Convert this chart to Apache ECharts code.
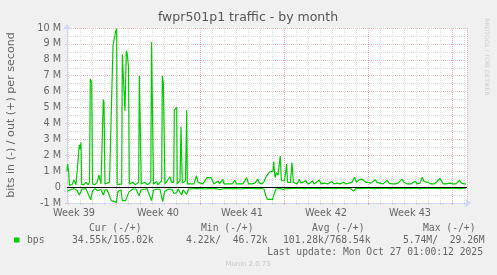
<!DOCTYPE html>
<html>
<head>
<meta charset="utf-8">
<script src="https://cdn.jsdelivr.net/npm/echarts@6/dist/echarts.min.js"></script>
<style>
html,body{margin:0;padding:0;background:#F0F0F0;}
#c{width:497px;height:275px;}
</style>
</head>
<body>
<div id="c"></div>
<script>
// time in hours since Mon Sep 22 00:00, values in Mbit/s
const outHours = [70,71.4,73.4,75,80,84,88,91,94.6,96,98,99.4,104,108,112,115,116.6,119.4,121,126,130,134,138,141,142.6,144,146,150,155,162,165.4,167.4,169.4,170.4,174,179.4,180.6,184,186,188.6,190.4,193,194.6,198,202,206,210,213.4,214.6,218.6,222,226,230,234,237.6,239,243,246,249,252,256,259.4,260.6,262.6,266,270,276,279,283.4,284.6,289.4,290.4,293,296,297,298,300.6,303,307,309.4,310.6,314,318,324,329,332,336,342,346,350,354,358,361,364,368,372.6,375,381.4,384,392,396,400,406,409,416,422,429.4,433,440,446,451.4,455,460,464,468,472,475,478,482,483.4,486,489,492,496.6,498.6,502,505,509.4,511,514,517,520,522.6,526,530,534.6,538,542,548,551,556,561.4,564,568,574.6,578,584,588,592,600,604,610,616,623.4,628,634,640,645,649,653.4,656,660,663,667,672,678,686.6,690,696,702,710,714,720,726,732,740,744,750,758,766,770,776,780.6,784,788,792,798,804,810,816,819,822,828,836,842,848,854.6,859,864,868];
const outMbps = [1.0,1.45,0.9,0.12,0.15,0.45,0.15,0.2,2.65,2.4,2.8,0.15,0.15,0.3,0.15,0.3,6.8,6.6,0.2,0.15,0.3,0.75,0.2,0.3,5.5,5.3,0.2,0.15,0.3,8.9,8.9,9.8,9.95,0.15,0.15,0.2,8.35,8.35,4.8,8.55,8.4,7.5,0.2,0.15,0.3,0.15,0.2,0.3,7.0,0.2,0.15,0.3,0.15,0.2,0.3,9.1,0.2,0.15,0.35,0.15,0.2,0.4,7.0,6.6,0.2,0.15,0.65,0.3,0.3,4.85,5.0,0.2,0.15,0.4,0.3,3.8,0.25,0.3,0.4,4.83,0.2,0.15,0.2,0.2,0.72,0.3,0.2,0.2,0.3,0.6,0.55,0.6,0.4,0.2,0.2,0.38,0.2,0.48,0.2,0.2,0.3,0.2,0.42,0.2,0.2,0.2,0.6,0.2,0.2,0.25,0.5,0.25,0.2,0.35,0.65,0.7,0.95,0.85,1.0,1.6,0.6,0.9,0.75,1.95,0.4,0.5,0.4,1.45,0.3,0.35,0.3,1.55,0.3,0.3,0.2,0.5,0.25,0.2,0.4,0.2,0.25,0.4,0.2,0.25,0.45,0.2,0.25,0.3,0.2,0.35,0.2,0.25,0.2,0.3,0.2,0.25,0.3,0.62,0.3,0.45,0.35,0.5,0.55,0.3,0.3,0.25,0.47,0.3,0.25,0.2,0.42,0.25,0.2,0.2,0.25,0.5,0.3,0.2,0.2,0.37,0.2,0.25,0.62,0.35,0.4,0.3,0.2,0.2,0.35,0.55,0.45,0.2,0.2,0.25,0.2,0.2,0.42,0.25,0.2,0.2];
const inHours = [70,73,78,84,90,94,97,100,104,108,112,117.4,121,126,130.6,134,138,142.6,146,150.6,154,158.6,164,168.6,172,175,178,180.6,184,187,190.6,194,197.4,202,208,214,218,224,230,234,239,243,246,250,256,261.4,265,269.4,274,280,284,289,292,299.4,302,309.4,313,316,326,336,346,356,366,376,386,396,406,416,426,436,446,456,464,468,471.4,481.4,484.6,488,496,502,508,516,526,536,546,556,566,576,586,596,606,616,626,636,643.4,648,656,666,676,686,696,706,716,726,736,746,756,766,776,786,796,806,816,826,836,846,856,868];
const inMbps = [-0.25,-0.15,-0.15,-0.1,-0.2,-0.5,-0.35,-0.12,-0.2,-0.1,-0.15,-0.8,-0.25,-0.1,-0.22,-0.1,-0.15,-0.5,-0.18,-0.18,-0.12,-0.85,-0.9,-0.96,-0.28,-0.22,-0.18,-0.85,-0.92,-0.85,-0.8,-0.3,-0.22,-0.12,-0.12,-0.55,-0.18,-0.15,-0.1,-0.15,-0.85,-0.18,-0.2,-0.12,-0.15,-0.92,-0.28,-0.2,-0.12,-0.15,-0.4,-0.35,-0.12,-0.5,-0.18,-0.45,-0.12,-0.15,-0.1,-0.08,-0.12,-0.1,-0.1,-0.15,-0.08,-0.1,-0.08,-0.12,-0.08,-0.07,-0.1,-0.08,-0.12,-0.6,-0.77,-0.77,-0.4,-0.12,-0.08,-0.15,-0.08,-0.1,-0.07,-0.08,-0.1,-0.07,-0.08,-0.1,-0.07,-0.08,-0.1,-0.07,-0.08,-0.08,-0.25,-0.08,-0.1,-0.07,-0.08,-0.1,-0.07,-0.08,-0.1,-0.07,-0.08,-0.1,-0.07,-0.08,-0.1,-0.07,-0.08,-0.08,-0.1,-0.07,-0.08,-0.08,-0.1,-0.07];
const weekCenters = [84,252,420,588,756];
const weekLabels = ['Week 39','Week 40','Week 41','Week 42','Week 43'];
const statHeaders = ['Cur (-/+)','Min (-/+)','Avg (-/+)','Max (-/+)'];
const statValues = ['34.55k/165.02k','4.22k/  46.72k','101.28k/768.54k','5.74M/  29.26M'];
const seriesName = 'bps';
const titleText = 'fwpr501p1 traffic - by month';
const unitText = 'bits in (-) / out (+) per second';
const lastUpdate = 'Last update: Mon Oct 27 01:00:12 2025';

const GREEN = '#00CC00';
const AXIS = '#CFD6F8';
const FONT = '#666666';
const MGRID = 'rgba(240,150,150,0.6)';
const GRID = 'rgba(195,195,195,0.55)';

const chart = echarts.init(document.getElementById('c'), null, {renderer:'canvas'});
const mono = '9.7px "DejaVu Sans Mono"';
const graphics = [
  {type:'text', x:248, y:18, style:{text:titleText, align:'center', verticalAlign:'middle', font:'12.5px "DejaVu Sans"', fill:'#555'}},
  {type:'text', x:11, y:115, rotation:Math.PI/2, style:{text:unitText, align:'center', verticalAlign:'middle', font:'11.1px "DejaVu Sans"', fill:FONT}},
  {type:'text', x:487, y:57, rotation:-Math.PI/2, style:{text:'RRDTOOL / TOBI OETIKER', align:'center', verticalAlign:'middle', font:'6px "DejaVu Sans"', fill:'#cfcfcf'}},
  {type:'rect', shape:{x:14, y:237.5, width:5.5, height:5}, style:{fill:GREEN}},
  {type:'text', x:27, y:240, style:{text:seriesName, align:'left', verticalAlign:'middle', font:mono, fill:FONT}},
  {type:'text', x:483, y:252, style:{text:lastUpdate, align:'right', verticalAlign:'middle', font:mono, fill:FONT}},
  {type:'text', x:248, y:264, style:{text:'Munin 2.0.73', align:'center', verticalAlign:'middle', font:'6.9px "DejaVu Sans"', fill:'#c8c8c8'}}
];
const headerX = [89,201,312,423];
const valueX = [72,186,283,403];
statHeaders.forEach((t,i)=>graphics.push({type:'text', x:headerX[i], y:228, style:{text:t, align:'left', verticalAlign:'middle', font:mono, fill:FONT}}));
statValues.forEach((t,i)=>graphics.push({type:'text', x:valueX[i], y:240, style:{text:t, align:'left', verticalAlign:'middle', font:mono, fill:FONT}}));

const option = {
  animation:false,
  backgroundColor:'#F0F0F0',
  grid:[
    {left:67, top:28, width:400, height:175, show:true, backgroundColor:'#FFFFFF', borderWidth:0},
    {left:68, top:28, width:399, height:175},
    {left:116, top:28, width:351, height:175}
  ],
  xAxis:[
    {type:'value', gridIndex:0, min:70, max:870,
     axisLine:{show:true, onZero:false, lineStyle:{color:AXIS, width:1}, symbol:['none','arrow'], symbolSize:[7,6], symbolOffset:[0,4]},
     axisTick:{show:false}, splitLine:{show:false},
     axisLabel:{customValues:weekCenters, formatter:(v)=>weekLabels[weekCenters.indexOf(v)], color:FONT, fontSize:9.7, fontFamily:'DejaVu Sans', margin:5}},
    {type:'value', gridIndex:1, min:72, max:870, interval:24,
     axisLine:{show:false, onZero:false}, axisLabel:{show:false},
     axisTick:{show:true, length:2, lineStyle:{color:GRID}},
     splitLine:{show:true, lineStyle:{color:GRID, width:1, type:[1,1]}}},
    {type:'value', gridIndex:2, min:168, max:870, interval:168,
     axisLine:{show:false, onZero:false}, axisLabel:{show:false},
     axisTick:{show:true, length:2, lineStyle:{color:MGRID}},
     splitLine:{show:true, lineStyle:{color:MGRID, width:1, type:[1,1]}}}
  ],
  yAxis:[
    {type:'value', gridIndex:0, min:-1, max:10, interval:1,
     axisLine:{show:true, lineStyle:{color:AXIS, width:1}, symbol:['none','arrow'], symbolSize:[7,6], symbolOffset:[0,4]},
     axisTick:{show:true, length:2, lineStyle:{color:MGRID}},
     axisLabel:{formatter:(v)=> v===0 ? '0' : v + ' M', color:FONT, fontSize:9.7, fontFamily:'DejaVu Sans', margin:6},
     splitLine:{show:true, lineStyle:{color:MGRID, width:1, type:[1,1]}},
     minorTick:{show:false, splitNumber:2},
     minorSplitLine:{show:true, lineStyle:{color:GRID, width:1, type:[1,1]}}},
    {type:'value', gridIndex:1, show:false, min:0, max:1},
    {type:'value', gridIndex:2, show:false, min:0, max:1}
  ],
  series:[
    {name:seriesName, type:'line', xAxisIndex:0, yAxisIndex:0, showSymbol:false, silent:true, z:3,
     lineStyle:{color:GREEN, width:1.2}, data:outHours.map((h,i)=>[h,outMbps[i]])},
    {name:seriesName+' in', type:'line', xAxisIndex:0, yAxisIndex:0, showSymbol:false, silent:true, z:3,
     lineStyle:{color:GREEN, width:1.2}, data:inHours.map((h,i)=>[h,inMbps[i]])},
    {name:'zero', type:'line', xAxisIndex:0, yAxisIndex:0, showSymbol:false, silent:true, z:5,
     lineStyle:{opacity:0}, data:[[outHours[0],0]],
     markLine:{silent:true, symbol:['none','none'], label:{show:false}, lineStyle:{color:'#000', width:1, type:'solid'}, data:[{yAxis:0}]}}
  ],
  graphic:graphics
};
chart.setOption(option);
</script>
</body>
</html>
